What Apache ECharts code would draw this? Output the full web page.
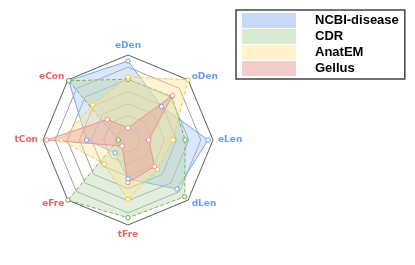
<!DOCTYPE html>
<html><head><meta charset="utf-8">
<script src="https://cdn.jsdelivr.net/npm/echarts@6/dist/echarts.min.js"></script>
<style>html,body{margin:0;padding:0;background:#fff}#c{width:415px;height:265px}</style>
</head><body><div id="c"></div>
<script>
// indicators listed counter-clockwise from the top (ECharts radar order)
const indicators = ['eDen','eCon','tCon','eFre','tFre','dLen','eLen','oDen'];
const indicatorColors = ['#6d9eeb','#e06666','#e06666','#e06666','#e06666','#6d9eeb','#6d9eeb','#6d9eeb'];
const seriesNames = ['NCBI-disease','CDR','AnatEM','Gellus'];
const ncbi   = [6.5, 6.9, 3.4, 1.5, 3.2, 5.7, 6.6, 3.9];
const cdr    = [5.0, 6.9, 0.8, 7.0, 6.4, 6.6, 4.7, 5.1];
const anatem = [5.2, 4.1, 5.5, 2.8, 4.9, 3.4, 3.7, 7.0];
const gellus = [1.0, 2.4, 6.7, 0.7, 3.5, 3.1, 1.7, 5.2];
const lineColors = ['#6d9eeb','#6aa84f','#f1c232','#ea9090'];
const fillColors = ['#a4c2f4','#b6d7a8','#ffe599','#ea9999'];
const legendFill = ['#c9daf8','#d9ead3','#fff2cc','#f4cccc'];
const lineTypes = ['solid','dashed','dashed','solid'];
const values = [ncbi, cdr, anatem, gellus];

const chart = echarts.init(document.getElementById('c'), null, {renderer:'canvas'});
chart.setOption({
  animation:false,
  legend:{
    orient:'vertical', left:236, top:10,
    borderColor:'#444', borderWidth:1.5, padding:[3,6,3,6],
    itemWidth:54, itemHeight:15, itemGap:1,
    icon:'rect',
    textStyle:{fontFamily:'Liberation Sans, Arial', fontWeight:'bold', fontSize:13, color:'#000', padding:[0,0,0,14]},
    data: seriesNames.map((n,i)=>({name:n, itemStyle:{color:legendFill[i], borderWidth:0, opacity:1}}))
  },
  radar:{
    center:[128,140], radius:85, startAngle:90, splitNumber:7, shape:'polygon',
    indicator: indicators.map((n,i)=>({name:n, min:0, max:7, color:indicatorColors[i]})),
    nameGap:5,
    axisName:{fontFamily:'DejaVu Sans', fontSize:9, fontWeight:'bold'},
    axisLine:{show:false},
    axisTick:{show:false},
    axisLabel:{show:false},
    splitArea:{show:false},
    splitLine:{lineStyle:{color:['#888','#888','#888','#888','#888','#888','#888','#333'], width:0.8}}
  },
  series: values.map((v,i)=>({
    type:'radar', name:seriesNames[i],
    symbol:'circle', symbolSize:4.5,
    itemStyle:{color:'#fff', borderColor:lineColors[i], borderWidth:1},
    lineStyle:{color:lineColors[i], width:1, type:lineTypes[i]},
    areaStyle:{color:fillColors[i], opacity:0.4},
    data:[{value:v, name:seriesNames[i]}]
  }))
});
</script></body></html>
